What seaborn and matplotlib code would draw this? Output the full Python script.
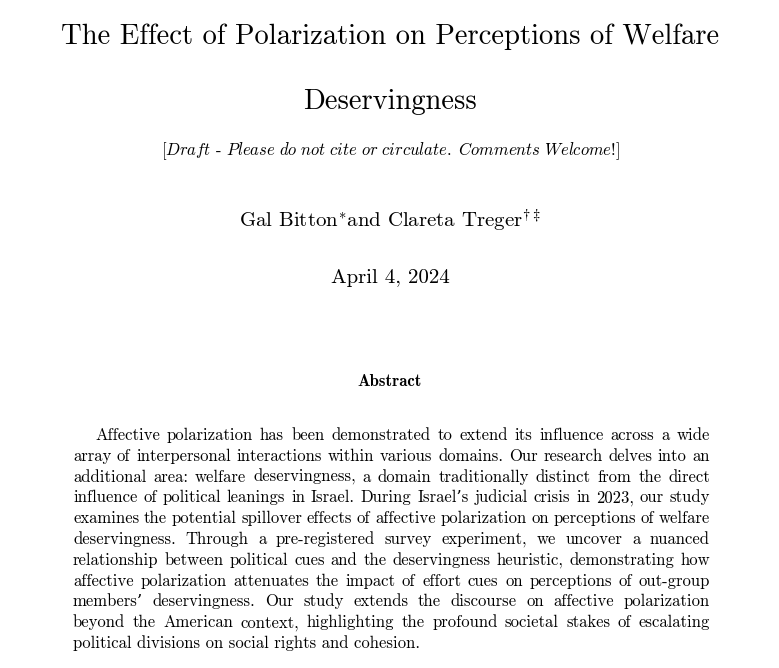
import matplotlib
matplotlib.use("Agg")
import matplotlib.pyplot as plt
import seaborn as sns

sns.set_theme(style="white")
plt.rcParams['font.family'] = ['cmr10', 'DejaVu Serif']
plt.rcParams['mathtext.fontset'] = 'cm'
plt.rcParams['axes.unicode_minus'] = False

title_lines = ["The Effect of Polarization on Perceptions of Welfare", "Deservingness"]
note = r"[$\it{Draft}$ - $\it{Please\ do\ not\ cite\ or\ circulate.\ Comments\ Welcome}$!]"
authors = r"Gal Bitton$^{*}$and Clareta Treger$^{\dagger\ddagger}$"
date = "April 4, 2024"
abstract_head = "Abstract"
abstract_lines = [
    "Affective polarization has been demonstrated to extend its influence across a wide",
    "array of interpersonal interactions within various domains.  Our research delves into an",
    "additional area:  welfare deservingness, a domain traditionally distinct from the direct",
    "influence of political leanings in Israel. During Israel\u2019s judicial crisis in 2023, our study",
    "examines the potential spillover effects of affective polarization on perceptions of welfare",
    "deservingness.  Through a pre-registered survey experiment, we uncover a nuanced",
    "relationship between political cues and the deservingness heuristic, demonstrating how",
    "affective polarization attenuates the impact of effort cues on perceptions of out-group",
    "members\u2019 deservingness.  Our study extends the discourse on affective polarization",
    "beyond the American context, highlighting the profound societal stakes of escalating",
    "political divisions on social rights and cohesion.",
]

W, H = 779, 668
fig = plt.figure(figsize=(W / 100, H / 100), dpi=100)
fig.patch.set_facecolor("white")

def fy(y):
    return 1 - y / H

def ftxt(x, y, s, **kw):
    return fig.text(x / W, fy(y), s, color="black", **kw)

ftxt(390, 44, title_lines[0], ha="center", va="baseline", fontsize=20.6)
ftxt(390, 109, title_lines[1], ha="center", va="baseline", fontsize=20.6)
ftxt(390, 155, note, ha="center", va="baseline", fontsize=12)
ftxt(390, 228, authors, ha="center", va="baseline", fontsize=15)
ftxt(390, 283, date, ha="center", va="baseline", fontsize=15)
ftxt(390, 386, abstract_head, ha="center", va="baseline", fontsize=12,
     family=['cmb10', 'DejaVu Serif'])

renderer = fig.canvas.get_renderer()
left, right = 73, 710
y0, dy = 440, 20.8
for i, line in enumerate(abstract_lines):
    y = y0 + i * dy
    x_start = left + (22 if i == 0 else 0)
    last = i == len(abstract_lines) - 1
    words = line.split()
    if last:
        ftxt(x_start, y, " ".join(words), ha="left", va="baseline", fontsize=12)
        continue
    texts = [ftxt(0, y, w, ha="left", va="baseline", fontsize=12) for w in words]
    widths = [t.get_window_extent(renderer).width for t in texts]
    gap = (right - x_start - sum(widths)) / (len(words) - 1)
    x = x_start
    for t, wd in zip(texts, widths):
        t.set_x(x / W)
        x += wd + gap

fig.savefig("out.png", dpi=100, facecolor="white")
